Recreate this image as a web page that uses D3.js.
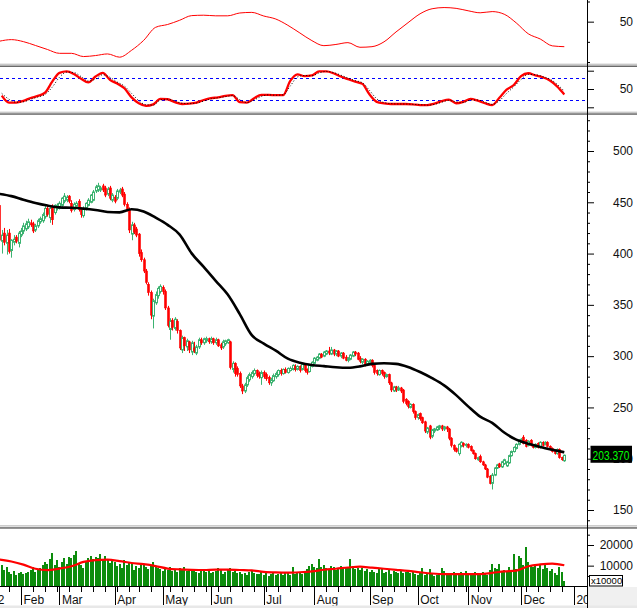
<!DOCTYPE html>
<html><head><meta charset="utf-8">
<script src="https://cdn.jsdelivr.net/npm/d3@7"></script>
<style>body{margin:0;background:#fff;}svg{display:block;font-family:"Liberation Sans",Arial,sans-serif;}</style>
</head><body><svg id="c" width="637" height="608"></svg>
<script>
// ---------- DATA (daily candles, index 0 = first visible session) ----------
const openP = [447,412,420,410,420,403,411,416,410,418,422,424,426,430,429,423,427,431,432,436,444,435,446,440,444,444,447,451,452,456,449,443,446,451,443,437,444,447,450,452,461,462,462,466,464,458,464,452,455,454,460,463,458,448,443,419,428,424,419,401,394,383,370,362,339,352,359,363,367,363,347,326,335,327,334,325,306,318,309,314,304,308,303,309,316,313,315,317,314,317,313,316,311,309,312,313,314,287,293,288,283,271,266,272,277,280,283,286,283,279,284,282,279,274,276,280,282,286,283,287,284,286,287,290,287,290,287,291,287,285,290,293,296,298,302,300,302,305,302,306,302,305,300,303,299,296,297,300,304,303,298,294,297,292,294,296,291,286,282,286,284,280,282,274,266,270,267,269,267,258,256,250,253,246,240,244,240,236,226,232,222,227,228,230,232,229,231,229,220,213,210,205,212,215,213,214,212,208,205,199,202,197,194,190,183,176,184,191,195,192,195,193,196,203,207,210,214,217,221,218,213,218,212,211,215,211,216,214,216,212,210,207,205,209,201,198];
const highP = [450,423,425,423,424,414,418,418,422,425,430,432,434,433,431,429,434,436,440,447,447,446,448,448,449,451,455,459,457,457,452,450,451,453,445,446,450,454,458,462,467,469,466,468,466,465,466,459,457,463,464,465,460,450,445,431,430,426,420,404,396,385,372,364,356,363,368,370,369,365,349,337,337,338,336,326,320,319,317,315,315,314,311,318,318,318,319,318,319,318,318,317,313,316,316,317,315,295,294,290,285,273,274,281,284,286,288,287,285,286,286,284,281,279,283,285,287,288,288,289,289,290,292,292,291,291,293,292,288,292,295,299,300,303,303,305,306,309,309,307,306,306,304,304,301,299,302,305,305,304,300,298,298,296,297,297,292,287,287,287,285,283,283,275,271,271,271,270,268,259,257,254,254,247,244,245,241,237,231,233,229,230,232,233,233,232,232,230,221,214,211,215,217,216,215,215,213,209,206,202,204,198,195,191,184,186,192,195,196,198,200,198,204,208,212,215,219,220,223,219,218,219,214,215,216,217,217,217,217,213,211,208,210,210,202,204];
const lowP = [410,400,408,399,400,396,408,410,406,416,419,422,424,426,420,421,425,429,430,434,436,430,428,438,442,443,445,449,450,449,440,441,444,441,435,435,442,446,449,451,459,460,460,460,455,456,452,450,449,452,458,455,446,441,420,413,419,416,397,392,381,370,359,336,327,350,356,361,360,345,328,316,325,325,322,306,303,305,305,303,301,303,301,307,311,311,313,312,312,311,311,309,306,307,310,312,287,284,280,280,269,263,264,270,275,278,281,279,278,272,278,276,272,271,275,278,280,281,282,283,283,285,286,285,286,284,286,284,282,284,289,292,295,297,298,299,301,301,301,300,300,299,298,297,295,294,296,299,300,296,293,292,290,291,292,289,282,281,281,281,278,279,272,265,265,265,266,264,254,252,249,249,244,238,238,237,234,225,224,219,220,225,227,228,227,227,226,218,211,207,206,203,211,211,211,210,207,204,199,198,196,193,189,181,175,170,183,190,191,191,194,192,195,202,206,209,213,216,214,211,212,212,210,210,210,210,212,213,211,208,206,204,204,200,198,197];
const closeP = [413,418,411,418,402,413,414,412,420,422,427,429,431,428,422,427,432,434,438,444,438,444,433,447,447,449,454,456,455,451,442,448,449,443,438,444,449,452,457,460,465,466,464,462,457,463,454,457,451,461,462,457,448,443,423,428,421,418,400,394,383,372,362,340,354,360,366,368,363,347,330,334,328,336,325,308,318,310,315,306,313,305,309,316,313,317,317,314,317,313,316,310,308,314,315,316,289,293,283,282,271,266,272,279,282,284,286,281,280,284,280,278,274,277,281,283,286,283,287,284,288,288,291,287,290,286,292,286,284,291,294,298,299,302,299,304,305,303,306,302,305,300,303,298,296,298,301,304,302,297,295,297,292,295,296,291,284,283,286,283,280,282,274,267,270,267,269,266,256,254,251,253,246,240,243,239,235,227,230,221,228,229,231,232,229,231,229,220,213,209,207,214,216,213,214,211,208,205,200,201,197,194,190,182,176,184,191,194,192,197,199,197,203,207,211,214,218,219,215,212,217,213,211,214,211,216,213,216,212,209,207,205,209,201,199,203.37];
const volume = [9000,10500,8000,9500,7000,6000,7500,5500,6500,7000,6000,6500,7000,8000,9500,7000,8500,9000,10500,12000,11000,13000,16200,10500,12500,9500,12000,13500,11000,14000,13500,15000,17000,11500,10500,9000,12000,13500,14500,13000,14000,13500,15500,13000,14500,12500,11500,13000,12000,10000,11000,9000,12500,10500,12000,11500,8000,10000,9000,11000,10500,9500,8500,10000,12000,10000,9000,8500,7500,9500,8000,9500,7500,8500,7000,9000,8000,9500,7500,8500,7500,8000,7000,6500,8000,7500,7000,8000,6500,7000,7500,9000,8500,6000,7000,8000,9000,7000,7500,6500,7000,6000,6500,5500,7000,7500,6500,6000,6000,7000,5500,6500,4800,6000,6500,5500,6000,7000,5500,6500,7000,5500,9500,6000,6500,7000,6000,7500,8500,10000,11000,9500,9000,13200,9500,10500,9000,8500,10000,9500,8000,9000,10000,8500,9500,9000,13000,10000,8500,9000,8000,9000,7500,8500,7000,8000,7000,6500,8500,9000,6500,7000,8000,6000,7500,7000,6500,7500,6500,7000,8000,6500,7000,6000,5500,6500,9000,5500,6000,8500,6000,5000,5500,6500,9000,7500,5500,6000,6500,7000,6500,5500,7000,6000,7500,5500,6000,5500,7000,6500,6000,7000,6500,5500,8000,10800,9000,8500,10800,7500,8000,7000,9500,8000,15600,8500,14500,13500,10500,19100,12000,10500,9500,11000,9000,10500,8500,11500,9000,7500,8500,6500,5500,9500,7000,2600];
// indicator readings, one value every 5 sessions (index 0,5,10,...,235)
const maPrice = [458.2,456,452.5,449.3,446.8,445,444.6,443.8,442.5,440.6,440.2,443.2,441,435,428,418.5,400.2,387,373.4,360,341,320.5,312.2,305.3,297.5,293.6,291.4,290.3,289.2,288.7,290,292.5,293,292.5,289.5,284.5,278.5,271.5,262,251,241,235,225.5,218.6,214.6,211.5,208.8,206.3];
const maVolume = [13000,12000,10500,8500,7800,8600,9700,11800,12700,12900,12200,11300,10700,9800,8600,8200,8000,7900,8100,8100,7900,7700,7000,6700,6600,6800,7200,8000,8500,9100,9500,9000,8500,8000,7500,6800,6200,5900,5900,5900,5900,6500,7200,7600,9700,10600,11000,10200];
const rsiLine = [40.3,41.1,40.1,38.2,36.2,34.3,34.3,32.7,33.2,34.0,32.4,35.8,40.7,47.2,48.6,50.7,53.0,53.2,52.9,52.9,54.3,54.6,52.8,51.3,48.2,44.4,40.6,38.1,38.7,39.6,37.3,37.6,40.0,44.9,49.5,53.9,56.4,57.0,56.6,55.4,54.4,55.0,53.7,49.4,44.0,41.4,38.0,37.6];
// stochastic readings, one value every 3 sessions (index 1,4,7,...,235)
const stochK = [32,13,13,17.5,25.5,31,40,70,94,98,91,78,68,84,94,75,65,52,27,11,4,8,23,22,14,9,10,13,20,25,27,31,33,14,13,25,34,34,33,33,72,90,85,87,98,98,93,84,77,70,64,35,15,11,9,9,9,8,6,6,10,17,21,11,15,23,18,11,6,26,48,61,85,93,87,82,73,57,35];
const stochD = [38,22,14,15,22,28,35,55,82,96,95,84,72,77,89,82,69,58,38,18,7,6,20,22,17,11,10,12,17,23,26,29,32,21,13,20,30,34,33,34,58,83,87,86,94,98,95,88,80,73,67,46,23,13,10,9,9,8,7,6,8,14,19,15,13,20,20,14,8,18,38,56,76,90,89,84,77,63,44];
const stochLevels = [80, 20];
// date axis (session index of first session of each month / week)
const monthIdx = [-10,9,25,48,68,88,110,131,154,174,195,217,239];
const monthLabels = ["2022","Feb","Mar","Apr","May","Jun","Jul","Aug","Sep","Oct","Nov","Dec","2023"];
const weekIdx = [4,14,19,24,29,34,39,44,49,54,58,63,71,76,81,86,91,96,101,106,111,116,121,126,136,141,146,151,159,164,169,179,184,189,194,199,204,209,214,219,224,229,234];
const priceTicks = [150,200,250,300,350,400,450,500];
const lastPrice = "203.370";

// ---------- LAYOUT ----------
const W = 637, H = 608, AX = 587;
const N = closeP.length;
const svg = d3.select("#c");
const x = d3.scaleLinear().domain([0, 235]).range([-0.64, 564.3]);
const yTop = d3.scaleLinear().domain([30, 60]).range([62, 1.5]);
const ySto = d3.scaleLinear().domain([0, 100]).range([107.3, 70.7]);
const yP = d3.scaleLinear().domain([150, 500]).range([510, 151]);
const yV = d3.scaleLinear().domain([0, 20000]).range([586.3, 545]);

svg.append("rect").attr("width", W).attr("height", H).attr("fill", "#fff");
const defs = svg.append("defs");
function clip(id, y0, y1) {
  defs.append("clipPath").attr("id", id).append("rect").attr("x", 0).attr("y", y0).attr("width", AX).attr("height", y1 - y0);
  return svg.append("g").attr("clip-path", `url(#${id})`);
}
const gTop = clip("cTop", 0, 63.5);
const gSto = clip("cSto", 67, 111.5);
const gMain = clip("cMain", 115, 525);
const gVol = clip("cVol", 529, 586);

// top indicator
gTop.append("path").datum(rsiLine)
  .attr("d", d3.line().x((d, i) => x(i * 5)).y(d => yTop(d)).curve(d3.curveMonotoneX))
  .attr("fill", "none").attr("stroke", "#ff0000").attr("stroke-width", 1);

// stochastic
gSto.selectAll("line.lvl").data(stochLevels).join("line")
  .attr("x1", 0).attr("x2", AX).attr("y1", d => Math.round(ySto(d)) + 0.5).attr("y2", d => Math.round(ySto(d)) + 0.5)
  .attr("stroke", "#0000ff").attr("stroke-width", 1).attr("stroke-dasharray", "3,3");
const stoLine = d3.line().x((d, i) => x(1 + i * 3)).y(d => ySto(d)).curve(d3.curveMonotoneX);
gSto.append("path").datum(stochK).attr("d", stoLine).attr("fill", "none").attr("stroke", "#ff0000").attr("stroke-width", 2.3);
gSto.append("path").datum(stochD).attr("d", stoLine).attr("fill", "none").attr("stroke", "#000").attr("stroke-width", 1).attr("stroke-dasharray", "1,2");

// candles
const UP = "#3cb371", DN = "#ff0000";
const idx = d3.range(N);
const isUp = i => closeP[i] >= openP[i];
gMain.selectAll("line.wick").data(idx).join("line")
  .attr("x1", i => Math.round(x(i)) + 0.5).attr("x2", i => Math.round(x(i)) + 0.5)
  .attr("y1", i => yP(highP[i])).attr("y2", i => yP(lowP[i]))
  .attr("stroke", i => isUp(i) ? UP : DN).attr("stroke-width", 1);
gMain.selectAll("rect.body").data(idx).join("rect")
  .attr("x", i => Math.round(x(i)) - 0.5)
  .attr("y", i => yP(Math.max(openP[i], closeP[i])))
  .attr("width", 2)
  .attr("height", i => Math.max(1, Math.abs(yP(openP[i]) - yP(closeP[i]))))
  .attr("fill", i => isUp(i) ? "#fff" : DN)
  .attr("stroke", i => isUp(i) ? UP : DN)
  .attr("stroke-width", i => isUp(i) ? 1 : 0.6);
gMain.append("path").datum(maPrice)
  .attr("d", d3.line().x((d, i) => x(i * 5)).y(d => yP(d)).curve(d3.curveMonotoneX))
  .attr("fill", "none").attr("stroke", "#000").attr("stroke-width", 2.6);

// volume
gVol.selectAll("rect.v").data(idx).join("rect")
  .attr("x", i => Math.round(x(i)) - 1).attr("width", 2)
  .attr("y", i => yV(volume[i])).attr("height", i => yV(0) - yV(volume[i]))
  .attr("fill", "#0c8c0c").attr("shape-rendering", "crispEdges");
gVol.append("path").datum(maVolume)
  .attr("d", d3.line().x((d, i) => x(i * 5)).y(d => yV(d)).curve(d3.curveMonotoneX))
  .attr("fill", "none").attr("stroke", "#ff0000").attr("stroke-width", 2.2);

// date axis
svg.append("line").attr("x1", 0).attr("x2", AX).attr("y1", 586.5).attr("y2", 586.5).attr("stroke", "#000");
svg.selectAll("line.wk").data(weekIdx).join("line")
  .attr("x1", d => Math.round(x(d)) + 0.5).attr("x2", d => Math.round(x(d)) + 0.5)
  .attr("y1", 586.5).attr("y2", 592).attr("stroke", "#000");
svg.selectAll("line.mo").data(monthIdx).join("line")
  .attr("x1", d => Math.round(x(d)) + 0.5).attr("x2", d => Math.round(x(d)) + 0.5)
  .attr("y1", 586.5).attr("y2", 605).attr("stroke", "#000");
svg.selectAll("text.mo").data(monthIdx).join("text")
  .attr("x", d => x(d) + 2.5).attr("y", 603.5).attr("font-size", 12).attr("fill", "#111")
  .text((d, i) => monthLabels[i]);
svg.append("rect").attr("x", AX).attr("y", 587).attr("width", W - AX).attr("height", H - 587).attr("fill", "#f0f0f0");
svg.append("rect").attr("x", 0).attr("y", 605.5).attr("width", W).attr("height", 2.5).attr("fill", "#e8e8e8");

// separators
function sep(yl, yd) {
  svg.append("rect").attr("x", 0).attr("y", yl).attr("width", W).attr("height", 1.5).attr("fill", "#c8c8c8");
  svg.append("rect").attr("x", 0).attr("y", yd).attr("width", W).attr("height", 1.5).attr("fill", "#6a6a6a");
}
sep(63.6, 65.5); sep(111.6, 113.3); sep(525.1, 527.2);

// right axes
svg.append("line").attr("x1", AX + 0.5).attr("x2", AX + 0.5).attr("y1", 0).attr("y2", H).attr("stroke", "#000");
function yAxis(scale, majors, minors, fmt) {
  const gm = svg.append("g").attr("transform", `translate(${AX},0)`).attr("color", "#000")
    .call(d3.axisRight(scale).tickValues(minors).tickSize(3).tickFormat(""));
  gm.select(".domain").remove();
  const g = svg.append("g").attr("transform", `translate(${AX},0)`).attr("color", "#000")
    .call(d3.axisRight(scale).tickValues(majors).tickSize(7).tickFormat(fmt));
  g.select(".domain").remove();
  g.selectAll("text").attr("x", 46).attr("text-anchor", "end").attr("font-size", 12)
    .attr("font-family", '"Liberation Sans",Arial,sans-serif').attr("fill", "#111");
}
yAxis(yTop, [50], [30, 40, 60], d => d);
yAxis(ySto, [0, 50, 100], [], d => d === 50 ? "50" : "");
const minorP = d3.range(140, 531, 10).filter(v => v % 50 !== 0);
yAxis(yP, priceTicks, minorP, d => d);
yAxis(yV, [10000, 20000], [5000, 15000, 25000], d => d);

// volume multiplier box
svg.append("rect").attr("x", 589.5).attr("y", 575.5).attr("width", 33).attr("height", 10.5)
  .attr("fill", "#fff").attr("stroke", "#000").attr("stroke-width", 1);
svg.append("text").attr("x", 591).attr("y", 584.3).attr("font-size", 9.5).attr("fill", "#000").text("x10000");

// last price label
svg.append("rect").attr("x", 590.5).attr("y", yP(closeP[N - 1]) - 9.5).attr("width", 41.5).attr("height", 17).attr("fill", "#000");
svg.append("text").attr("x", 592.5).attr("y", yP(closeP[N - 1]) + 4.3).attr("font-size", 12)
  .attr("textLength", 37).attr("lengthAdjust", "spacingAndGlyphs").attr("fill", "#00ff00").text(lastPrice);
</script></body></html>
